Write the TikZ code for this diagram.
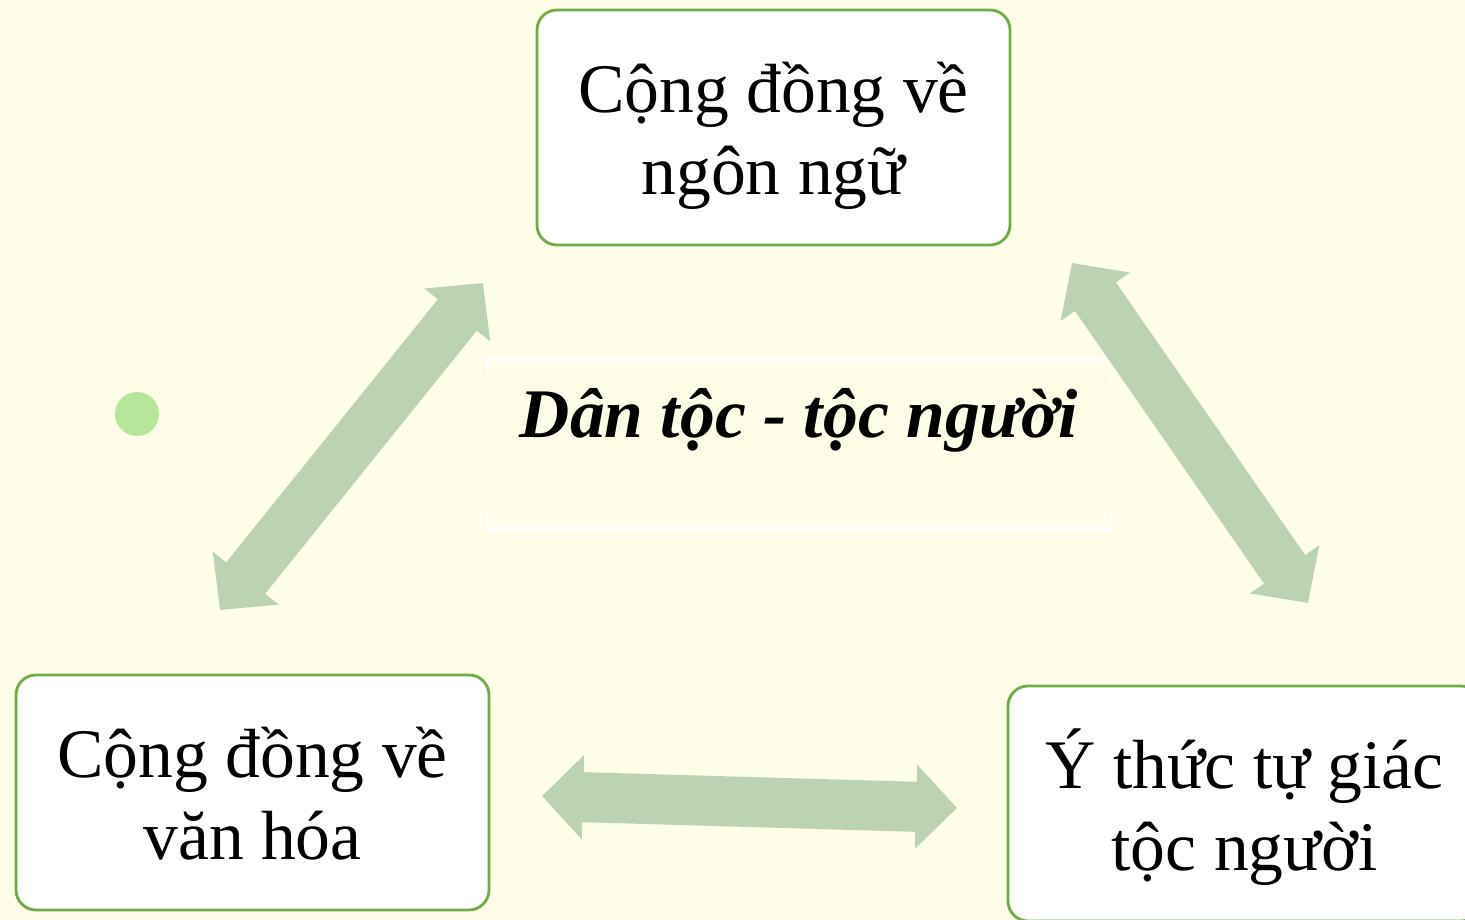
\documentclass[tikz,border=0pt]{standalone}
\usepackage{fontspec}
\setmainfont{Liberation Serif}
\usetikzlibrary{arrows.meta,positioning}
\definecolor{nen}{HTML}{FDFDE8}
\definecolor{vien}{HTML}{70AD47}
\definecolor{muiten}{HTML}{BBD3B2}
\definecolor{cham}{HTML}{B5E69A}

\begin{document}
\begin{tikzpicture}[every node/.style={font=\fontsize{19.8}{23.6}\selectfont},
	khung/.style={rectangle, rounded corners=0.2cm, draw=vien, line width=0.8pt, fill=white, minimum width=4.73cm, minimum height=2.35cm, align=center, text height=1.55cm, text depth=0.2cm},
	muitendoi/.style={draw=muiten, line width=0.5cm, {Triangle[width=0.82cm,length=0.41cm]}-{Triangle[width=0.82cm,length=0.41cm]}}]
	\fill[nen] (0,0) rectangle (14.65,9.2);
	\useasboundingbox (0,0) rectangle (14.65,9.2);
	
	\node[khung] (ngonngu) at (7.735,7.925) {Cộng đồng về\\ngôn ngữ};
	\node[khung] (vanhoa) at (2.525,1.275) {Cộng đồng về\\văn hóa};
	\node[khung] (ythuc) at (12.445,1.165) {Ý thức tự giác\\tộc người};
	\node[rectangle, draw=white, line width=0.85pt, anchor=north, minimum width=6.24cm, inner sep=0.1cm, text height=0.68cm, text depth=0.81cm, font=\fontsize{19.8}{23.6}\selectfont\bfseries\itshape] (dantoc) at (7.99,5.62) {Dân tộc - tộc người};
	\node[circle, fill=cham, minimum size=0.44cm, inner sep=0pt] (cham) at (1.37,5.06) {};
	
	% cac mui ten hai dau
	\coordinate (t1) at (2.20,3.10);
	\coordinate (t2) at (4.83,6.37);
	\coordinate (t3) at (10.72,6.57);
	\coordinate (t4) at (13.08,3.17);
	\coordinate (t5) at (5.42,1.24);
	\coordinate (t6) at (9.57,1.12);
	\draw[muitendoi] (t1) -- (t2);
	\draw[muitendoi] (t3) -- (t4);
	\draw[muitendoi] (t5) -- (t6);
\end{tikzpicture}
\end{document}
